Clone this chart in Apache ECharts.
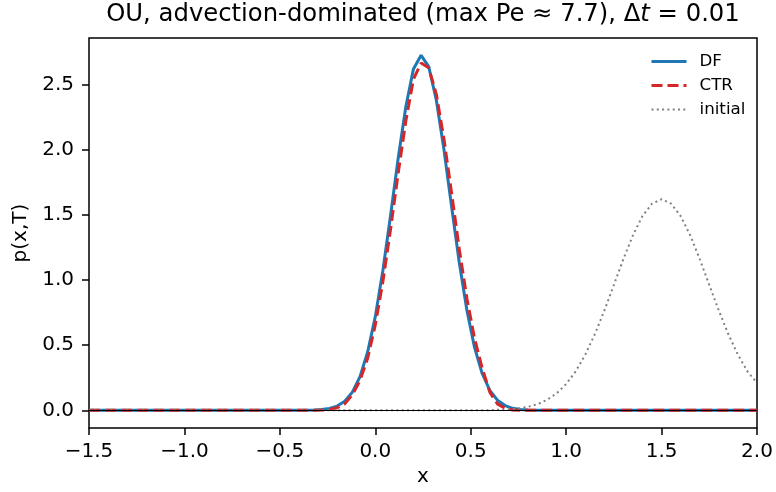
<!DOCTYPE html>
<html>
<head>
<meta charset="utf-8">
<script src="https://cdn.jsdelivr.net/npm/echarts@6/dist/echarts.min.js"></script>
<style>
  html, body { margin: 0; padding: 0; background: #fff; }
  #chart { width: 776px; height: 492px; }
</style>
</head>
<body>
<div id="chart"></div>
<script>
// grid nodes used by both schemes (tails are zero)
var gridX = [-1.5, -0.44, -0.40, -0.36, -0.32, -0.28, -0.24, -0.20, -0.16, -0.12, -0.08, -0.04,
    0.00, 0.04, 0.08, 0.12, 0.16, 0.20, 0.24, 0.28, 0.32, 0.36, 0.40, 0.44, 0.48, 0.52,
    0.56, 0.60, 0.64, 0.68, 0.72, 0.76, 0.80, 0.84, 0.88, 2.0];
var dfVals = [0, 0, 0, 0.001, 0.002, 0.006, 0.014, 0.033, 0.07, 0.14, 0.259, 0.448,
    0.719, 1.075, 1.495, 1.934, 2.329, 2.62, 2.724, 2.638, 2.38, 1.999, 1.561, 1.135, 0.768, 0.483,
    0.283, 0.154, 0.078, 0.037, 0.016, 0.007, 0.003, 0.001, 0, 0];
var ctrVals = [0, 0, 0, 0, 0, 0.002, 0.006, 0.02, 0.05, 0.12, 0.23, 0.40,
    0.655, 0.99, 1.39, 1.82, 2.22, 2.54, 2.665, 2.628, 2.425, 2.08, 1.666, 1.239, 0.859, 0.554,
    0.325, 0.14, 0.05, 0.015, 0.003, 0, 0, 0, 0, 0];

// initial density
var initX = [-1.5, 0.4, 0.5, 0.6, 0.7, 0.75, 0.8, 0.85, 0.9, 0.95, 1.0, 1.05, 1.1, 1.15, 1.2, 1.25,
    1.3, 1.35, 1.4, 1.45, 1.5, 1.55, 1.6, 1.65, 1.7, 1.75, 1.8, 1.85, 1.9, 1.95, 2.0];
var initVals = [0, 0, 0.0004, 0.002, 0.008, 0.015, 0.027, 0.048, 0.081, 0.13, 0.202, 0.299, 0.427, 0.584, 0.765, 0.962,
    1.161, 1.343, 1.491, 1.586, 1.62, 1.586, 1.491, 1.343, 1.161, 0.962, 0.765, 0.584, 0.427, 0.299, 0.21];

var xTicks = [-1.5, -1.0, -0.5, 0.0, 0.5, 1.0, 1.5, 2.0];
var yTicks = [0.0, 0.5, 1.0, 1.5, 2.0, 2.5];

var FONT = 'DejaVu Sans';

function pairs(xs, ys) {
    var out = [];
    for (var i = 0; i < xs.length; i++) out.push([xs[i], ys[i]]);
    return out;
}
function fmt(v) {
    var s = Number(v).toFixed(1);
    return s.replace('-', '\u2212');
}

var myChart = echarts.init(document.getElementById('chart'), null, { renderer: 'canvas' });
var option = {
    animation: false,
    backgroundColor: '#ffffff',
    textStyle: { fontFamily: FONT },
    title: {
        text: '{a|OU, advection-dominated (max Pe \u2248 7.7), \u0394}{i|t}{a| = 0.01}',
        left: 423,
        textAlign: 'center',
        top: 3,
        padding: 0,
        textStyle: {
            fontWeight: 'normal',
            rich: {
                a: { fontFamily: FONT, fontSize: 24.3, fontWeight: 'normal', color: '#000' },
                i: { fontFamily: FONT, fontSize: 24.3, fontWeight: 'normal', fontStyle: 'italic', color: '#000' }
            }
        }
    },
    legend: {
        orient: 'vertical',
        left: 650,
        top: 53,
        padding: 0,
        itemWidth: 35,
        itemHeight: 14,
        itemGap: 7,
        data: [
            { name: 'DF', lineStyle: { width: 3 } },
            { name: 'CTR', lineStyle: { width: 3 } },
            { name: 'initial', lineStyle: { width: 2 } }
        ],
        itemStyle: { opacity: 0 },
        textStyle: { fontFamily: FONT, fontSize: 16.7, color: '#000', padding: [0, 0, 0, 8] }
    },
    grid: {
        left: 89, right: 19, top: 38, bottom: 62,
        show: true,
        borderColor: '#000',
        borderWidth: 1.5,
        backgroundColor: 'transparent'
    },
    xAxis: {
        type: 'value',
        min: -1.5, max: 2.0, interval: 0.5,
        name: 'x',
        nameLocation: 'middle',
        nameGap: 37,
        nameTextStyle: { fontFamily: FONT, fontSize: 20, color: '#000' },
        axisLine: { show: false, onZero: false },
        axisTick: { show: true, length: 7, lineStyle: { color: '#000', width: 1.5 }, customValues: xTicks },
        axisLabel: { fontFamily: FONT, fontSize: 20, color: '#000', margin: 14, customValues: xTicks, formatter: fmt },
        splitLine: { show: false }
    },
    yAxis: {
        type: 'value',
        min: -0.136, max: 2.857,
        name: 'p(x,T)',
        nameLocation: 'middle',
        nameGap: 55,
        nameTextStyle: { fontFamily: FONT, fontSize: 20, color: '#000' },
        axisLine: { show: false, onZero: false },
        axisTick: { show: true, length: 7, lineStyle: { color: '#000', width: 1.5 }, customValues: yTicks },
        axisLabel: { fontFamily: FONT, fontSize: 20, color: '#000', margin: 15, customValues: yTicks, formatter: fmt },
        splitLine: { show: false }
    },
    series: [
        {
            name: 'DF', type: 'line', data: pairs(gridX, dfVals),
            symbol: 'none', z: 2,
            lineStyle: { color: '#1f77b4', width: 3 },
            itemStyle: { color: '#1f77b4' }
        },
        {
            name: 'CTR', type: 'line', data: pairs(gridX, ctrVals),
            symbol: 'none', z: 3,
            lineStyle: { color: '#d62728', width: 3, type: [11, 5] },
            itemStyle: { color: '#d62728' }
        },
        {
            name: 'initial', type: 'line', data: pairs(initX, initVals),
            symbol: 'none', z: 4,
            lineStyle: { color: '#808080', width: 2, type: [2, 3.3] },
            itemStyle: { color: '#808080' },
            markLine: {
                silent: true, symbol: 'none', label: { show: false },
                lineStyle: { color: '#000', width: 1, type: 'solid' },
                data: [{ yAxis: 0 }]
            }
        }
    ]
};
myChart.setOption(option);
</script>
</body>
</html>
